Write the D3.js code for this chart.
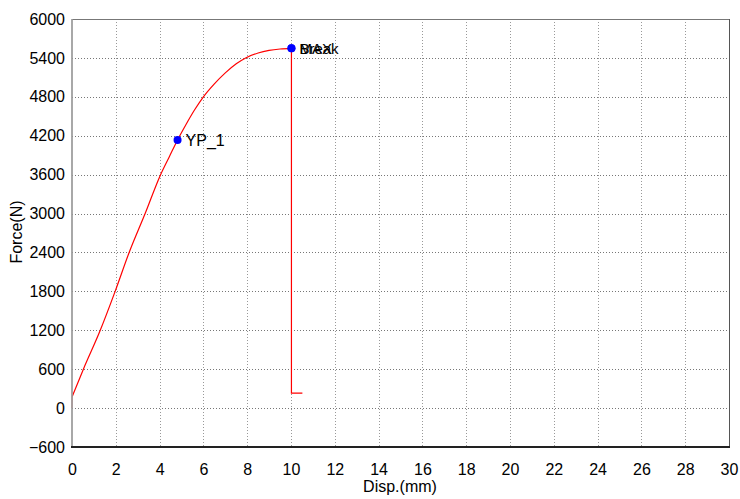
<!DOCTYPE html>
<html><head><meta charset="utf-8">
<script src="https://cdn.jsdelivr.net/npm/d3@7"></script>
<style>body{margin:0;background:#fff;}svg{display:block;font-family:"Liberation Sans",Arial,sans-serif;}</style>
</head><body>
<svg id="c" width="740" height="499"></svg>
<script>
const disp  = [0, 0.01, 0.52, 1.29, 1.97, 2.61, 3.34, 4.02, 4.45, 4.82, 5.2, 5.6, 6.0, 6.5, 7.0, 7.5, 7.93, 8.5, 9.0, 9.5, 10.02, 10.02, 10.52];
const force = [0, 180, 600, 1200, 1800, 2400, 3000, 3580, 3880, 4135, 4370, 4600, 4800, 5000, 5170, 5310, 5400, 5475, 5515, 5537, 5548, 230, 230];
const markNames = ["YP_1", "MAX", "Break"];
const markDisp = [4.82, 10.02, 10.02];
const markForce = [4135, 5548, 5548];
const xTicks = d3.range(0, 31, 2);
const yTicks = d3.range(-600, 6001, 600);

const svg = d3.select("#c");
const L = 72, R = 729, T = 19, B = 447;
const x = d3.scaleLinear().domain([0, 30]).range([L, R]);
const y = d3.scaleLinear().domain([-600, 6000]).range([B, T]);

// grid
svg.append("g").selectAll("line").data(xTicks.filter(d => d > 0 && d < 30)).join("line")
  .attr("x1", d => Math.round(x(d)) + 0.5).attr("x2", d => Math.round(x(d)) + 0.5).attr("y1", T).attr("y2", B)
  .attr("stroke", "#999").attr("stroke-dasharray", "1,2");
svg.append("g").selectAll("line").data(yTicks.filter(d => d > -600 && d < 6000)).join("line")
  .attr("y1", d => Math.round(y(d)) + 0.5).attr("y2", d => Math.round(y(d)) + 0.5).attr("x1", L).attr("x2", R)
  .attr("stroke", "#777").attr("stroke-dasharray", "1,2");

// frame
svg.append("line").attr("x1", L).attr("x2", R).attr("y1", T + 0.5).attr("y2", T + 0.5).attr("stroke", "#777");
svg.append("line").attr("x1", R + 0.5).attr("x2", R + 0.5).attr("y1", T).attr("y2", B).attr("stroke", "#555");

// curve: initial seating segment, smooth loading part, then straight break segments
const pts = disp.map((d, i) => [d, force[i]]);
const peak = force.indexOf(d3.max(force));
const lin = d3.line().x(d => x(d[0])).y(d => y(d[1]));
const smooth = d3.line().x(d => x(d[0])).y(d => y(d[1])).curve(d3.curveMonotoneX);
svg.append("path").attr("d", lin(pts.slice(0, 2)))
  .attr("fill", "none").attr("stroke", "#ff8080").attr("stroke-width", 1.2);
svg.append("path").attr("d", smooth(pts.slice(1, peak + 1)))
  .attr("fill", "none").attr("stroke", "#ff0000").attr("stroke-width", 1.2);
svg.append("path").attr("d", lin(pts.slice(peak)))
  .attr("fill", "none").attr("stroke", "#ff0000").attr("stroke-width", 1.2);

svg.append("line").attr("x1", L).attr("x2", L).attr("y1", T).attr("y2", B).attr("stroke", "#999").attr("stroke-width", 2).attr("opacity", 0.85);
svg.append("line").attr("x1", L - 1).attr("x2", R + 1).attr("y1", B).attr("y2", B).attr("stroke", "#222").attr("stroke-width", 2);

// axes via d3 axis generators (ticks hidden, labels only)
const xAxis = svg.append("g").attr("transform", `translate(0,${B})`)
  .call(d3.axisBottom(x).tickValues(xTicks).tickFormat(d3.format("d")).tickSize(0).tickPadding(17));
xAxis.select(".domain").remove();
xAxis.selectAll("text").attr("font-size", 16).attr("font-family", "Liberation Sans, Arial").attr("fill", "#000");

const yAxis = svg.append("g").attr("transform", `translate(${L},0)`)
  .call(d3.axisLeft(y).tickValues(yTicks).tickFormat(d3.format("d")).tickSize(0).tickPadding(7));
yAxis.select(".domain").remove();
yAxis.selectAll("text").attr("font-size", 16).attr("font-family", "Liberation Sans, Arial").attr("fill", "#000");

// titles
svg.append("text").attr("x", 400).attr("y", 492).attr("text-anchor", "middle")
  .attr("font-size", 16).text("Disp.(mm)");
svg.append("text").attr("transform", "translate(22,232) rotate(-90)").attr("text-anchor", "middle")
  .attr("font-size", 16).text("Force(N)");

// markers
const marks = markNames.map((n, i) => ({n, d: markDisp[i], f: markForce[i]}));
svg.append("g").selectAll("circle").data(marks).join("circle")
  .attr("cx", d => x(d.d)).attr("cy", d => y(d.f)).attr("r", 4).attr("fill", "#0000ff");
svg.append("g").selectAll("text").data(marks).join("text")
  .attr("x", d => x(d.d) + 8).attr("y", d => y(d.f) + 6)
  .attr("font-size", d => d.n === "YP_1" ? 16 : 15).attr("fill", "#000").text(d => d.n);
</script>
</body></html>
